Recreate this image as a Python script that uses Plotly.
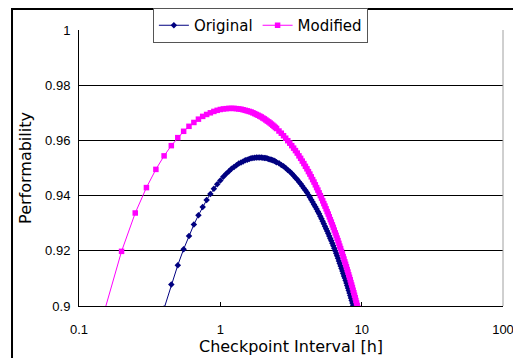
import plotly.graph_objects as go

# Checkpoint interval [h] and performability values
orig_x = [0.40, 0.45, 0.50, 0.55, 0.60, 0.65, 0.70, 0.75, 0.80, 0.85, 0.90, 0.95,
          1.00, 1.05, 1.10, 1.15, 1.20, 1.25, 1.30, 1.35, 1.40, 1.45, 1.50, 1.55,
          1.60, 1.65, 1.70, 1.75, 1.80, 1.85, 1.90, 1.95, 2.00, 2.05, 2.10, 2.15,
          2.20, 2.25, 2.30, 2.35, 2.40, 2.45, 2.50, 2.6, 2.7, 2.8, 2.9, 3.0, 3.1,
          3.2, 3.3, 3.4, 3.5, 3.6, 3.7, 3.8, 3.9, 4.0, 4.1, 4.2, 4.3, 4.4, 4.5,
          4.6, 4.7, 4.8, 4.9, 5.0, 5.1, 5.2, 5.3, 5.4, 5.5, 5.6, 5.7, 5.8, 5.9,
          6.0, 6.1, 6.2, 6.3, 6.4, 6.5, 6.6, 6.7, 6.8, 6.9, 7.0, 7.1, 7.2, 7.3,
          7.4, 7.5, 7.6, 7.7, 7.8, 7.9, 8.0, 8.1, 8.2, 8.3, 8.4, 8.5, 8.6, 8.7,
          8.8, 8.9, 9.0]
orig_y = [0.8991, 0.9078, 0.9148, 0.9206, 0.9254, 0.9295, 0.9329, 0.9359, 0.9384,
          0.9406, 0.9425, 0.9441, 0.9455, 0.9468, 0.9479, 0.9488, 0.9497, 0.9504,
          0.9510, 0.9516, 0.9520, 0.9524, 0.9528, 0.9530, 0.9533, 0.9535, 0.9536,
          0.9537, 0.9538, 0.9538, 0.9538, 0.9538, 0.9537, 0.9536, 0.9536, 0.9534,
          0.9533, 0.9531, 0.9530, 0.9528, 0.9526, 0.9524, 0.9521, 0.9517, 0.9511,
          0.9506, 0.9500, 0.9493, 0.9487, 0.9480, 0.9473, 0.9465, 0.9458, 0.9450,
          0.9443, 0.9435, 0.9427, 0.9419, 0.9411, 0.9402, 0.9394, 0.9385, 0.9377,
          0.9368, 0.9360, 0.9351, 0.9342, 0.9334, 0.9325, 0.9316, 0.9307, 0.9298,
          0.9289, 0.9280, 0.9272, 0.9263, 0.9254, 0.9245, 0.9236, 0.9227, 0.9218,
          0.9209, 0.9200, 0.9191, 0.9182, 0.9173, 0.9163, 0.9154, 0.9145, 0.9136,
          0.9127, 0.9118, 0.9109, 0.9101, 0.9092, 0.9083, 0.9074, 0.9065, 0.9056,
          0.9047, 0.9038, 0.9029, 0.9020, 0.9011, 0.9003, 0.8994, 0.8985, 0.8976]

mod_x = [0.15, 0.20, 0.25, 0.30, 0.35, 0.40, 0.45, 0.50, 0.55, 0.60, 0.65, 0.70,
         0.75, 0.80, 0.85, 0.90, 0.95, 1.00, 1.05, 1.10, 1.15, 1.20, 1.25, 1.30,
         1.35, 1.40, 1.45, 1.50, 1.55, 1.60, 1.65, 1.70, 1.75, 1.80, 1.85, 1.90,
         1.95, 2.00, 2.05, 2.10, 2.15, 2.20, 2.25, 2.30, 2.35, 2.40, 2.45, 2.50,
         2.6, 2.7, 2.8, 2.9, 3.0, 3.1, 3.2, 3.3, 3.4, 3.5, 3.6, 3.7, 3.8, 3.9,
         4.0, 4.1, 4.2, 4.3, 4.4, 4.5, 4.6, 4.7, 4.8, 4.9, 5.0, 5.1, 5.2, 5.3,
         5.4, 5.5, 5.6, 5.7, 5.8, 5.9, 6.0, 6.1, 6.2, 6.3, 6.4, 6.5, 6.6, 6.7,
         6.8, 6.9, 7.0, 7.1, 7.2, 7.3, 7.4, 7.5, 7.6, 7.7, 7.8, 7.9, 8.0, 8.1,
         8.2, 8.3, 8.4, 8.5, 8.6, 8.7, 8.8, 8.9, 9.0, 9.1, 9.2, 9.3, 9.4, 9.5, 9.6]
mod_y = [0.8975, 0.9198, 0.9337, 0.9429, 0.9495, 0.9544, 0.9581, 0.9610, 0.9633,
         0.9651, 0.9665, 0.9677, 0.9687, 0.9694, 0.9700, 0.9705, 0.9709, 0.9712,
         0.9714, 0.9715, 0.9716, 0.9716, 0.9716, 0.9715, 0.9714, 0.9713, 0.9711,
         0.9709, 0.9707, 0.9705, 0.9703, 0.9700, 0.9697, 0.9694, 0.9691, 0.9688,
         0.9685, 0.9681, 0.9678, 0.9674, 0.9670, 0.9667, 0.9663, 0.9659, 0.9655,
         0.9651, 0.9647, 0.9643, 0.9634, 0.9626, 0.9617, 0.9608, 0.9599, 0.9590,
         0.9581, 0.9572, 0.9563, 0.9554, 0.9544, 0.9535, 0.9525, 0.9516, 0.9506,
         0.9497, 0.9487, 0.9478, 0.9468, 0.9458, 0.9449, 0.9439, 0.9429, 0.9420,
         0.9410, 0.9400, 0.9391, 0.9381, 0.9371, 0.9362, 0.9352, 0.9342, 0.9333,
         0.9323, 0.9313, 0.9304, 0.9294, 0.9285, 0.9275, 0.9265, 0.9256, 0.9246,
         0.9237, 0.9227, 0.9217, 0.9208, 0.9198, 0.9189, 0.9179, 0.9170, 0.9160,
         0.9151, 0.9142, 0.9132, 0.9123, 0.9113, 0.9104, 0.9095, 0.9085, 0.9076,
         0.9067, 0.9057, 0.9048, 0.9039, 0.9030, 0.9020, 0.9011, 0.9002, 0.8993,
         0.8984, 0.8975]

x_tickvals = [0.1, 1, 10, 100]
x_ticktext = ["0.1", "1", "10", "100"]
y_tickvals = [0.9, 0.92, 0.94, 0.96, 0.98, 1.0]
y_ticktext = ["0.9", "0.92", "0.94", "0.96", "0.98", "1"]

fig = go.Figure()
fig.add_trace(go.Scatter(
    x=orig_x, y=orig_y, name="Original", mode="lines+markers",
    line=dict(color="#000080", width=1),
    marker=dict(symbol="diamond", size=5, color="#000080", line=dict(width=0)),
))
fig.add_trace(go.Scatter(
    x=mod_x, y=mod_y, name="Modified", mode="lines+markers",
    line=dict(color="#FF00FF", width=1),
    marker=dict(symbol="square", size=5.5, color="#FF00FF", line=dict(width=0)),
))

# the page body adds an 8px offset, so the figure is 8px smaller than the window
fig.update_layout(
    width=513, height=350,
    margin=dict(l=71, r=18, t=22, b=52, autoexpand=False),
    paper_bgcolor="white", plot_bgcolor="white",
    font=dict(family="DejaVu Sans", color="black"),
    showlegend=True,
    legend=dict(
        orientation="h", xref="container", yref="container",
        x=0.492, xanchor="center", y=1.0, yanchor="top",
        bgcolor="white", bordercolor="#555555", borderwidth=1,
        font=dict(family="DejaVu Sans", size=15, color="black"),
        itemwidth=30, tracegroupgap=0,
    ),
    xaxis=dict(
        type="log", range=[-1, 2], automargin=False,
        tickvals=x_tickvals, ticktext=x_ticktext,
        ticks="inside", ticklen=4, tickcolor="black",
        showline=True, linecolor="black", linewidth=1,
        showgrid=False, zeroline=False,
        tickfont=dict(family="Liberation Sans", size=13, color="black"),
        ticklabelstandoff=11,
        title=dict(text="Checkpoint Interval [h]",
                   font=dict(family="DejaVu Sans", size=16, color="black"),
                   standoff=5),
    ),
    yaxis=dict(
        range=[0.9, 1.0], automargin=False,
        tickvals=y_tickvals, ticktext=y_ticktext,
        ticks="", showline=True, linecolor="black", linewidth=1,
        showgrid=True, gridcolor="black", gridwidth=1, zeroline=False,
        tickfont=dict(family="Liberation Sans", size=13, color="black"),
        ticklabelstandoff=5,
        title=dict(text="Performability",
                   font=dict(family="DejaVu Sans", size=16, color="black"),
                   standoff=9),
    ),
    shapes=[
        # plot-area right edge (grey)
        dict(type="line", xref="paper", yref="paper", x0=1, x1=1, y0=0, y1=1,
             line=dict(color="#a0a0a0", width=1)),
        # outer chart frame
        dict(type="rect", xref="paper", yref="paper",
             x0=-0.158, x1=1.035, y0=-0.2, y1=1.076,
             line=dict(color="black", width=2), layer="below"),
    ],
)

fig.write_html("out.html")
